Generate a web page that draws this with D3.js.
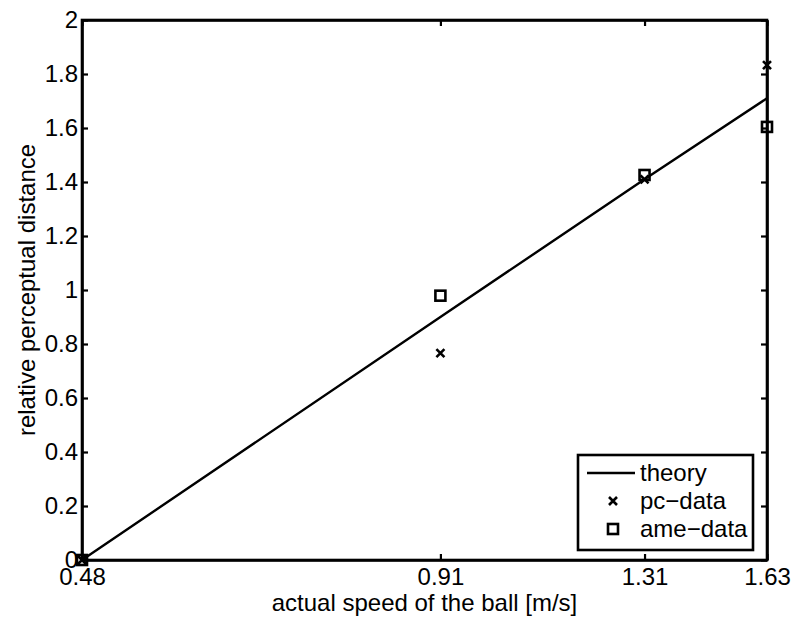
<!DOCTYPE html>
<html>
<head>
<meta charset="utf-8">
<script src="https://cdn.jsdelivr.net/npm/d3@7"></script>
<style>
  body { margin: 0; background: #fff; }
  text { font-family: "Liberation Sans", Arial, sans-serif; fill: #000; }
</style>
</head>
<body>
<div id="chart"></div>
<script>
// speed vs perceived distance

const speeds = [0.48, 0.91, 1.31, 1.63];
const theory = [0, 0.90, 1.41, 1.71];
const pcData = [0, 0.766, 1.41, 1.833];
const ameData = [0, 0.979, 1.426, 1.604];
const yTicks = [0, 0.2, 0.4, 0.6, 0.8, 1, 1.2, 1.4, 1.6, 1.8, 2];
const legendLabels = ["theory", "pc\u2212data", "ame\u2212data"];

const width = 793,
    height = 618,
    margin = ({ top: 20, right: 26, bottom: 58, left: 82 }),
    fontSize = "24px";

const svg = d3.select("#chart")
    .append("svg")
    .attr("width", width)
    .attr("height", height);

const x = d3.scaleLog()
    .domain([0.48, 1.63])
    .range([margin.left, width - margin.right]);

const y = d3.scaleLinear()
    .domain([0, 2])
    .range([height - margin.bottom, margin.top]);

const tick = 6;

// axes (ticks point inward, mirrored on the opposite side)
svg.append("g")
    .attr("transform", `translate(0,${height - margin.bottom})`)
    .call(d3.axisBottom(x).tickValues(speeds).tickFormat(d => d).tickSizeInner(-tick).tickSizeOuter(0).tickPadding(8));

svg.append("g")
    .attr("transform", `translate(0,${margin.top})`)
    .call(d3.axisTop(x).tickValues(speeds).tickFormat("").tickSizeInner(-tick).tickSizeOuter(0));

svg.append("g")
    .attr("transform", `translate(${margin.left},0)`)
    .call(d3.axisLeft(y).tickValues(yTicks).tickFormat(d => d).tickSizeInner(-tick).tickSizeOuter(0).tickPadding(4));

svg.append("g")
    .attr("transform", `translate(${width - margin.right},0)`)
    .call(d3.axisRight(y).tickValues(yTicks).tickFormat("").tickSizeInner(-tick).tickSizeOuter(0));

svg.selectAll(".domain").attr("stroke", "#000").attr("stroke-width", 2.6);
svg.selectAll(".tick line").attr("stroke", "#000").attr("stroke-width", 2.2);
svg.selectAll(".tick text").style("font-size", fontSize).attr("fill", "#000");

// border box
svg.append("rect")
    .attr("x", margin.left)
    .attr("y", margin.top)
    .attr("width", width - margin.left - margin.right)
    .attr("height", height - margin.top - margin.bottom)
    .attr("fill", "none")
    .attr("stroke", "#000")
    .attr("stroke-width", 2.6);

// theory line
const line = d3.line()
    .x((d, i) => x(speeds[i]))
    .y(d => y(d));

svg.append("path")
    .datum(theory)
    .attr("d", line)
    .attr("fill", "none")
    .attr("stroke", "#000")
    .attr("stroke-width", 2.4);

// markers
function cross(g, cx, cy) {
    const s = 4;
    g.append("path")
        .attr("d", `M${cx - s},${cy - s}L${cx + s},${cy + s}M${cx - s},${cy + s}L${cx + s},${cy - s}`)
        .attr("stroke", "#000")
        .attr("stroke-width", 2.6);
}
function square(g, cx, cy) {
    g.append("rect")
        .attr("x", cx - 5)
        .attr("y", cy - 5)
        .attr("width", 10)
        .attr("height", 10)
        .attr("fill", "none")
        .attr("stroke", "#000")
        .attr("stroke-width", 2.6);
}

const marks = svg.append("g");
pcData.forEach((v, i) => cross(marks, x(speeds[i]), y(v)));
ameData.forEach((v, i) => square(marks, x(speeds[i]), y(v)));

// axis labels
svg.append("text")
    .attr("x", (margin.left + width - margin.right) / 2)
    .attr("y", 611)
    .attr("text-anchor", "middle")
    .style("font-size", fontSize)
    .text("actual speed of the ball [m/s]");

svg.append("text")
    .attr("transform", `translate(35,${y(1)}) rotate(-90)`)
    .attr("text-anchor", "middle")
    .style("font-size", fontSize)
    .text("relative perceptual distance");

// legend
const lg = svg.append("g").attr("transform", "translate(578,455)");
lg.append("rect")
    .attr("width", 175)
    .attr("height", 95)
    .attr("fill", "#fff")
    .attr("stroke", "#000")
    .attr("stroke-width", 2.6);

legendLabels.forEach((lab, i) => {
    const cy = 18 + i * 28;
    if (i === 0) {
        lg.append("line")
            .attr("x1", 9).attr("x2", 57)
            .attr("y1", cy).attr("y2", cy)
            .attr("stroke", "#000")
            .attr("stroke-width", 2.4);
    } else if (i === 1) {
        cross(lg, 35, cy);
    } else {
        square(lg, 35, cy);
    }
    lg.append("text")
        .attr("x", 62)
        .attr("y", cy + 8)
        .style("font-size", fontSize)
        .text(lab);
});
</script>
</body>
</html>
